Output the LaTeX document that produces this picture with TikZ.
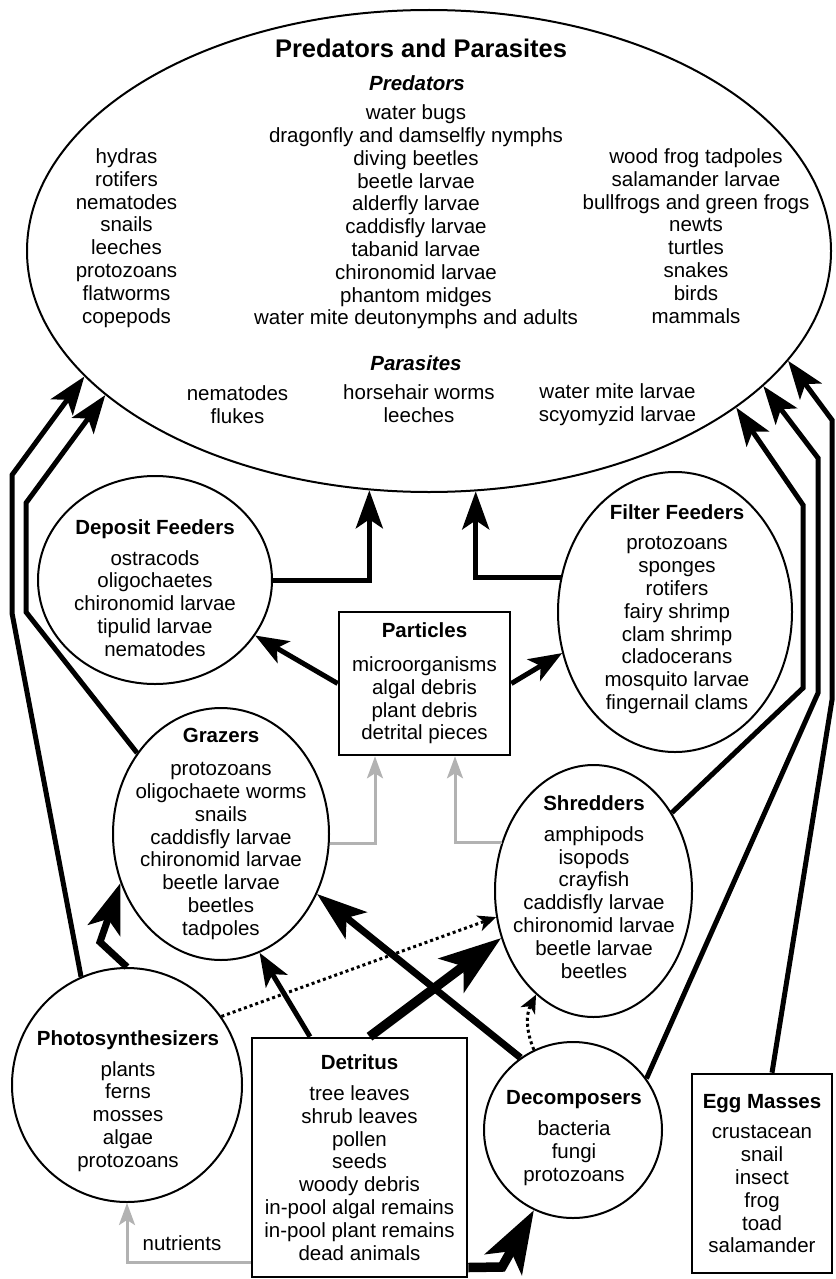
\documentclass[tikz,border=0pt]{standalone}
\usepackage{fontspec}
\setmainfont{Liberation Sans}
\usepackage{tikz}
\usetikzlibrary{arrows.meta,shapes.geometric}
\definecolor{nutgray}{RGB}{178,178,178}

\begin{document}
\begin{tikzpicture}[
  x=1pt, y=-1pt,
  font=\fontsize{20.5}{22.8}\selectfont,
  grp/.style={draw, ellipse, line width=2pt, inner sep=0pt},
  box/.style={draw, line width=2.6pt, inner sep=0pt, align=center},
  txt/.style={align=center, inner sep=0pt},
  lnk/.style={line width=5pt, -{Stealth[length=38pt,width=27pt,inset=9pt]}},
  feed/.style={line width=5pt, -{Stealth[length=33pt,width=25pt,inset=8pt]}},
  heavy/.style={line width=7pt, -{Stealth[length=50pt,width=34pt,inset=12pt]}},
  massive/.style={line width=9.5pt, -{Stealth[length=62pt,width=42pt,inset=15pt]}},
  nut/.style={line width=3pt, nutgray, -{Stealth[length=22pt,width=16pt,inset=5pt]}},
  maybe/.style={line width=3pt, dash pattern=on 3pt off 3pt, -{Stealth[length=18pt,width=16pt,inset=5pt]}}
]
\useasboundingbox (0,0) rectangle (835,1279);

% predators and parasites
\node[grp, minimum width=804pt, minimum height=482pt] (pred) at (429,251) {};
\node[txt] (pred-ttl) at (421,48) {\fontsize{25.5}{28}\selectfont\bfseries Predators and Parasites};
\node[txt] (pred-sub) at (417,83) {\textbf{\textit{Predators}}};
\node[txt] (pred-left) at (126.5,238) {hydras\\rotifers\\nematodes\\snails\\leeches\\protozoans\\flatworms\\copepods};
\node[txt] (pred-mid) at (416,217) {water bugs\\dragonfly and damselfly nymphs\\diving beetles\\beetle larvae\\alderfly larvae\\caddisfly larvae\\tabanid larvae\\chironomid larvae\\phantom midges\\water mite deutonymphs and adults};
\node[txt] (pred-right) at (696,236) {wood frog tadpoles\\salamander larvae\\bullfrogs and green frogs\\newts\\turtles\\snakes\\birds\\mammals};
\node[txt] (para-sub) at (416,363) {\textbf{\textit{Parasites}}};
\node[txt] (para-left) at (237.5,405) {nematodes\\flukes};
\node[txt] (para-mid) at (419,404) {horsehair worms\\leeches};
\node[txt] (para-right) at (617.5,405) {water mite larvae\\scyomyzid larvae};

% consumer groups
\node[grp, minimum width=234pt, minimum height=208pt] (dep) at (155,580) {};
\node[txt] (dep-txt) at (155,588) {\textbf{Deposit Feeders}\\[8pt]ostracods\\oligochaetes\\chironomid larvae\\tipulid larvae\\nematodes};
\node[grp, minimum width=234pt, minimum height=280pt] (fil) at (675,612) {};
\node[txt] (fil-txt) at (677,609) {\textbf{Filter Feeders}\\[8pt]protozoans\\sponges\\rotifers\\fairy shrimp\\clam shrimp\\cladocerans\\mosquito larvae\\fingernail clams};
\node[box, minimum width=171pt, minimum height=143pt] (part) at (424.5,683.5) {\textbf{Particles}\\[11pt]microorganisms\\algal debris\\plant debris\\detrital pieces};
\node[grp, minimum width=216pt, minimum height=252pt] (gra) at (221,834) {};
\node[txt] (gra-txt) at (221,834) {\textbf{Grazers}\\[10pt]protozoans\\oligochaete worms\\snails\\caddisfly larvae\\chironomid larvae\\beetle larvae\\beetles\\tadpoles};
\node[grp, minimum width=197pt, minimum height=252pt] (shr) at (593.5,891) {};
\node[txt] (shr-txt) at (594,887) {\textbf{Shredders}\\[8pt]amphipods\\isopods\\crayfish\\caddisfly larvae\\chironomid larvae\\beetle larvae\\beetles};

% sources
\node[grp, minimum width=230pt, minimum height=234pt] (pho) at (127,1085) {};
\node[txt] (pho-txt) at (128,1101) {\textbf{Photosynthesizers}\\[8pt]plants\\ferns\\mosses\\algae\\protozoans};
\node[box, minimum width=215pt, minimum height=239pt] (det) at (359.5,1157.5) {\textbf{Detritus}\\[8pt]tree leaves\\shrub leaves\\pollen\\seeds\\woody debris\\in-pool algal remains\\in-pool plant remains\\dead animals};
\node[grp, minimum width=178pt, minimum height=176pt] (dec) at (573,1130) {};
\node[txt] (dec-txt) at (574,1138) {\textbf{Decomposers}\\[8pt]bacteria\\fungi\\protozoans};
\node[box, minimum width=140pt, minimum height=199pt] (egg) at (762,1173.5) {\textbf{Egg Masses}\\[8pt]crustacean\\snail\\insect\\frog\\toad\\salamander};

% links to predators
\draw[lnk] (dep.east) -| (pred.256);
\draw[lnk] (fil.163) -| (pred.281);
\draw[lnk] (pho.113) -- (12,613) -- (12,475) -- (pred.200);
\draw[lnk] (gra.136) -- (26,612) -- (26,503) -- (pred.204);
\draw[lnk] (shr.45) -- (803,688) -- (803,505) -- (pred.333);
\draw[lnk] (dec.35) -- (818,693) -- (818,458) -- (pred.338);
\draw[lnk] ([xshift=10pt]egg.north) -- (832,700) -- (832,420) -- (pred.343);

% particles
\draw[feed] (part.west) -- (dep.331);
\draw[feed] (part.east) -- (fil.200);
\draw[nut] (gra.355) -| ([xshift=-49.5pt]part.south);
\draw[nut] (shr.152) -| ([xshift=30.5pt]part.south);

% lower web
\draw[heavy] (pho.north) -- (100,942) -- (gra.206);
\draw[feed] ([xshift=-49.5pt]det.north) -- (gra.288);
\draw[massive] ([xshift=10pt]det.north) -- (shr.207);
\draw[heavy] (dec.126) -- (gra.328);
\draw[maybe] (pho.36) -- (shr.195);
\draw[maybe] (dec.116) to[bend left=25] (shr.241);
\draw[massive] ([yshift=-110pt]det.east) -- (502,1267) -- (dec.244);
\draw[nut] ([yshift=-104.5pt]det.west) -| (pho.south);
\node (nutlbl) at (182,1243) {nutrients};
\end{tikzpicture}
\end{document}
